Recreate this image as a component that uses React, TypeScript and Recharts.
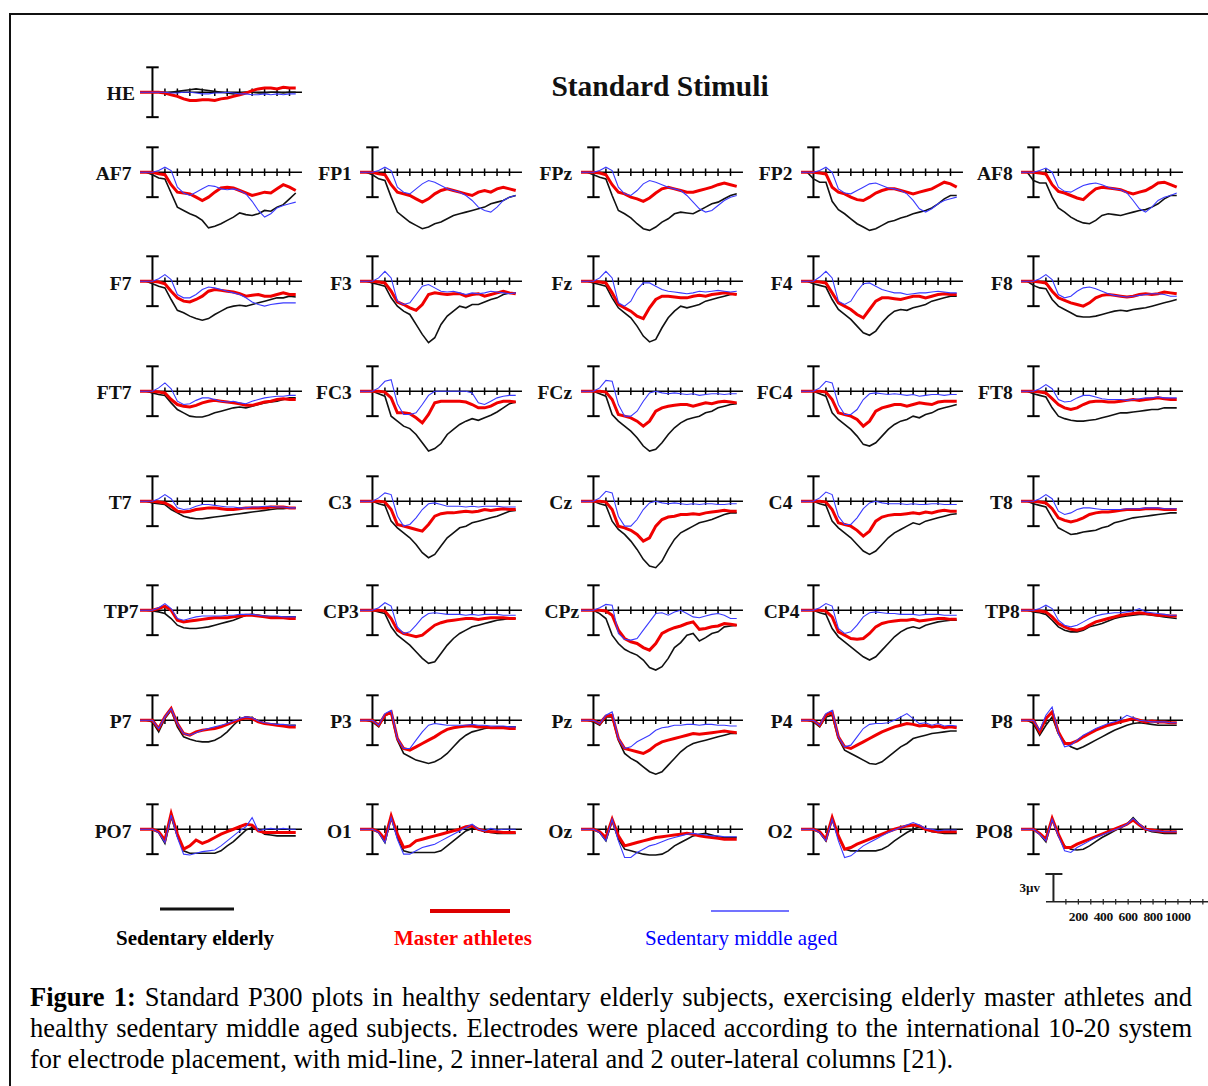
import React from "react";
import { LineChart, Line, XAxis, YAxis, ReferenceLine } from "recharts";

// time points in ms
const TIMES = [-100, -50, 0, 50, 100, 150, 200, 250, 300, 350, 400, 450, 500, 550, 600, 650, 700, 750, 800, 850, 900, 950, 1000, 1050, 1100, 1150];
const AXIS_TICKS = [100, 200, 300, 400, 500, 600, 700, 800, 900, 1000, 1100];
const SCALE_TICKS = [100, 200, 300, 400, 500, 600, 700, 800, 900, 1000, 1100, 1200, 1300];
const SCALE_LABELS = [200, 400, 600, 800, 1000];

const GRID = [
  ["AF7", "FP1", "FPz", "FP2", "AF8"],
  ["F7", "F3", "Fz", "F4", "F8"],
  ["FT7", "FC3", "FCz", "FC4", "FT8"],
  ["T7", "C3", "Cz", "C4", "T8"],
  ["TP7", "CP3", "CPz", "CP4", "TP8"],
  ["P7", "P3", "Pz", "P4", "P8"],
  ["PO7", "O1", "Oz", "O2", "PO8"],
];

const CAPTION_LINES = [
  "Standard P300 plots in healthy sedentary elderly subjects, exercising elderly master athletes and",
  "healthy sedentary middle aged subjects. Electrodes were placed according to the international 10-20 system",
  "for electrode placement, with mid-line, 2 inner-lateral and 2 outer-lateral columns [21).",
];

// k = sedentary elderly, r = master athletes, b = sedentary middle aged (µV, down = negative)
const HE = {
  k: [0,0,0,0,-0.1,0,0.1,0.2,0.3,0.4,0.3,0.2,0.1,0,-0.1,-0.2,-0.1,0,0,-0.1,-0.1,0,0,-0.1,0,0],
  r: [0,0,0,0,-0.1,-0.3,-0.5,-0.8,-1.0,-1.0,-0.9,-0.9,-1.0,-0.8,-0.7,-0.5,-0.3,-0.1,0.2,0.4,0.5,0.5,0.4,0.6,0.5,0.5],
  b: [0,0,0,0,0,-0.1,-0.1,0,0,-0.1,-0.2,-0.2,-0.1,-0.1,0,-0.1,-0.2,-0.2,-0.3,-0.3,-0.2,-0.3,-0.2,-0.3,-0.2,-0.2],
};
const AF7 = {
  k: [0,0,-0.3,-0.7,-0.8,-2.5,-4.2,-4.6,-5.0,-5.3,-5.8,-6.7,-6.5,-6.2,-5.8,-5.4,-4.9,-5.1,-5.2,-5.0,-4.6,-4.7,-4.2,-3.9,-3.2,-2.5],
  r: [0,0,0,-0.2,-0.3,-1.5,-2.4,-2.5,-2.6,-3.0,-3.4,-3.0,-2.4,-1.9,-1.8,-1.9,-2.2,-2.5,-2.8,-2.6,-2.4,-2.5,-2.0,-1.5,-1.8,-2.2],
  b: [0,0,0,0.2,0.6,0.2,-1.8,-2.5,-2.8,-2.4,-2.0,-1.6,-1.7,-2.0,-2.1,-2.0,-2.2,-2.6,-3.5,-4.6,-5.4,-5.0,-4.3,-4.0,-3.8,-3.6],
};
const FP1 = {
  k: [0,0,-0.3,-0.8,-1.0,-3.0,-4.8,-5.4,-6.0,-6.4,-6.8,-6.6,-6.2,-6.0,-5.6,-5.2,-5.0,-4.8,-4.6,-4.4,-4.2,-3.8,-3.6,-3.4,-3.0,-2.8],
  r: [0,0,0,-0.2,-0.3,-1.5,-2.4,-2.6,-2.8,-3.2,-3.6,-3.2,-2.6,-2.2,-2.0,-2.2,-2.4,-2.6,-2.8,-2.4,-2.2,-2.4,-2.0,-1.8,-2.0,-2.2],
  b: [0,0,0,0.2,0.6,0.2,-1.8,-2.4,-2.6,-2.0,-1.4,-1.0,-1.2,-1.6,-2.0,-2.2,-2.4,-2.8,-3.4,-4.2,-4.6,-4.8,-4.2,-3.4,-3.0,-2.8],
};
const FPz = {
  k: [0,0,-0.3,-0.6,-0.8,-2.8,-4.6,-5.0,-5.5,-6.2,-6.8,-7.0,-6.6,-6.0,-5.6,-5.0,-4.8,-4.9,-5.0,-4.6,-4.2,-3.8,-3.6,-3.2,-2.8,-2.6],
  r: [0,0,0,-0.1,-0.3,-1.5,-2.4,-2.6,-3.0,-3.2,-3.5,-3.1,-2.5,-2.0,-1.8,-2.0,-2.2,-2.4,-2.4,-2.2,-2.0,-1.8,-1.5,-1.3,-1.5,-1.7],
  b: [0,0,0,0.2,0.6,0.2,-1.8,-2.6,-2.8,-2.2,-1.4,-1.0,-1.2,-1.5,-1.8,-2.0,-2.2,-2.8,-3.6,-4.4,-4.8,-4.6,-4.0,-3.4,-3.0,-2.8],
};
const FP2 = {
  k: [0,0,-0.8,-1.2,-1.2,-3.5,-4.5,-5.0,-5.6,-6.2,-6.6,-7.0,-6.8,-6.4,-6.0,-5.8,-5.5,-5.3,-5.0,-4.8,-4.6,-4.3,-3.8,-3.2,-2.8,-2.8],
  r: [0,0,0,-0.1,-0.2,-1.8,-2.4,-2.6,-3.0,-3.3,-3.4,-3.0,-2.5,-2.2,-2.0,-2.0,-2.2,-2.4,-2.6,-2.4,-2.2,-2.0,-1.6,-1.2,-1.4,-1.8],
  b: [0,0,0,0.2,0.6,0,-2.0,-2.5,-2.6,-2.2,-1.8,-1.4,-1.3,-1.6,-1.9,-2.0,-2.2,-2.6,-3.4,-4.4,-4.8,-4.4,-3.8,-3.4,-3.2,-3.0],
};
const AF8 = {
  k: [0,0,-1.0,-1.3,-1.3,-3.0,-4.3,-4.8,-5.4,-5.8,-6.1,-6.2,-5.8,-5.2,-5.0,-5.1,-5.2,-5.0,-4.8,-4.6,-4.5,-4.2,-3.8,-3.2,-2.8,-2.8],
  r: [0,0,0,-0.1,-0.2,-1.5,-2.3,-2.5,-2.8,-3.1,-3.3,-2.6,-2.0,-1.8,-1.9,-2.0,-2.1,-2.4,-2.6,-2.4,-2.2,-1.8,-1.3,-1.2,-1.5,-1.8],
  b: [0,0,0,0.2,0.5,0,-1.8,-2.3,-2.4,-2.0,-1.6,-1.4,-1.3,-1.5,-1.8,-2.0,-2.1,-2.5,-3.4,-4.4,-4.8,-4.2,-3.4,-3.0,-2.8,-2.5],
};
const F7 = {
  k: [0,0,-0.3,-0.6,-0.8,-2.2,-3.5,-3.8,-4.2,-4.5,-4.7,-4.5,-4.0,-3.6,-3.2,-3.0,-2.9,-3.0,-2.8,-2.6,-2.4,-2.2,-2.0,-2.0,-1.8,-1.9],
  r: [0,0,0,-0.1,-0.3,-1.2,-2.0,-2.4,-2.5,-2.2,-1.8,-1.2,-1.0,-1.1,-1.2,-1.3,-1.5,-1.8,-1.7,-1.6,-1.8,-1.8,-1.6,-1.4,-1.6,-1.6],
  b: [0,0,0,0.3,0.8,0.2,-1.6,-2.0,-2.0,-1.6,-1.0,-0.7,-0.8,-1.0,-1.2,-1.4,-1.6,-2.0,-2.5,-2.8,-3.0,-2.8,-2.7,-2.6,-2.6,-2.6],
};
const F3 = {
  k: [0,0,-0.2,-0.4,-0.6,-2.0,-3.0,-3.6,-4.0,-5.2,-6.4,-7.4,-6.8,-5.2,-4.2,-3.6,-3.0,-3.2,-2.8,-2.8,-2.5,-2.2,-2.0,-1.6,-1.4,-1.4],
  r: [0,0,0,-0.1,-0.2,-1.2,-2.5,-2.8,-3.2,-3.5,-2.8,-1.6,-1.4,-1.5,-1.6,-1.5,-1.5,-1.8,-1.6,-1.5,-1.8,-1.6,-1.4,-1.2,-1.4,-1.5],
  b: [0,0,0,0.4,1.2,0.4,-2.4,-2.8,-2.6,-1.6,-0.6,-0.4,-0.8,-1.2,-1.3,-1.2,-1.4,-1.6,-1.4,-1.5,-1.4,-1.2,-1.3,-1.4,-1.5,-1.4],
};
const Fz = {
  k: [0,0,-0.2,-0.4,-0.6,-2.0,-3.2,-3.8,-4.4,-5.4,-6.6,-7.3,-7.0,-5.6,-4.4,-3.6,-3.0,-3.2,-3.0,-2.8,-2.4,-2.2,-2.0,-1.8,-1.6,-1.5],
  r: [0,0,0,-0.1,-0.2,-1.4,-2.8,-3.2,-3.6,-4.2,-4.5,-3.2,-2.2,-1.8,-1.8,-1.9,-2.0,-2.0,-1.8,-1.7,-1.8,-1.6,-1.5,-1.4,-1.5,-1.6],
  b: [0,0,0,0.4,1.2,0.4,-2.6,-3.0,-2.4,-1.0,-0.2,-0.2,-0.6,-1.0,-1.2,-1.3,-1.4,-1.5,-1.4,-1.2,-1.3,-1.2,-1.1,-1.2,-1.3,-1.2],
};
const F4 = {
  k: [0,0,-0.3,-0.5,-0.7,-2.2,-3.4,-4.0,-4.6,-5.4,-6.2,-6.5,-6.0,-5.0,-4.2,-3.6,-3.4,-3.5,-3.2,-3.0,-2.8,-2.4,-2.2,-2.0,-1.8,-1.8],
  r: [0,0,0,-0.1,-0.2,-1.4,-2.6,-3.0,-3.4,-4.0,-4.4,-3.4,-2.4,-2.0,-2.0,-2.1,-2.2,-2.0,-1.8,-1.8,-2.0,-1.8,-1.6,-1.5,-1.6,-1.6],
  b: [0,0,0,0.5,1.2,0.4,-2.4,-2.8,-2.4,-1.2,-0.3,-0.2,-0.6,-1.0,-1.2,-1.4,-1.4,-1.6,-1.5,-1.4,-1.4,-1.3,-1.2,-1.3,-1.4,-1.4],
};
const F8 = {
  k: [0,0,-0.5,-0.8,-0.9,-2.2,-3.0,-3.4,-3.8,-4.2,-4.3,-4.3,-4.2,-4.0,-3.8,-3.6,-3.5,-3.6,-3.4,-3.3,-3.2,-3.0,-2.8,-2.6,-2.4,-2.2],
  r: [0,0,0,-0.1,-0.2,-1.2,-2.0,-2.3,-2.6,-2.8,-3.0,-2.6,-2.0,-1.7,-1.6,-1.7,-1.8,-1.9,-1.8,-1.6,-1.5,-1.6,-1.5,-1.3,-1.4,-1.5],
  b: [0,0,0,0.3,0.8,0.2,-1.6,-2.0,-1.8,-1.2,-0.8,-0.7,-0.9,-1.2,-1.5,-1.7,-1.8,-1.9,-1.8,-1.7,-1.6,-1.5,-1.5,-1.6,-1.8,-1.8],
};
const FT7 = {
  k: [0,0,-0.2,-0.4,-0.5,-1.4,-2.2,-2.6,-3.0,-3.1,-3.1,-2.9,-2.6,-2.4,-2.2,-2.0,-1.9,-2.0,-1.8,-1.6,-1.4,-1.3,-1.2,-1.0,-0.8,-0.8],
  r: [0,0,0,-0.1,-0.2,-1.0,-1.6,-1.8,-1.9,-1.7,-1.4,-1.2,-1.1,-1.2,-1.3,-1.4,-1.5,-1.7,-1.7,-1.5,-1.3,-1.2,-1.0,-0.9,-1.0,-1.0],
  b: [0,0,0,0.4,1.0,0.3,-1.2,-1.6,-1.5,-1.1,-0.8,-0.8,-1.0,-1.2,-1.3,-1.2,-1.4,-1.5,-1.2,-1.0,-0.8,-0.7,-0.6,-0.6,-0.5,-0.5],
};
const FC3 = {
  k: [0,0,0,-0.3,-0.6,-3.0,-3.6,-4.2,-4.5,-5.2,-6.2,-7.2,-6.9,-6.3,-5.2,-4.6,-4.0,-3.6,-3.3,-3.5,-3.2,-2.9,-2.5,-2.0,-1.5,-1.3],
  r: [0,0,0,0,-0.1,-0.8,-2.6,-2.6,-2.7,-3.2,-3.8,-2.8,-1.4,-1.2,-1.2,-1.2,-1.2,-1.3,-1.6,-2.0,-2.0,-1.8,-1.4,-1.2,-1.2,-1.3],
  b: [0,0,0,0.4,1.2,1.4,-1.5,-2.8,-2.8,-2.6,-1.6,-0.5,0,0,0,0,0,0,-0.2,-1.4,-1.6,-1.2,-0.8,-0.6,-0.5,-0.5],
};
const FCz = {
  k: [0,0,0,-0.3,-0.6,-2.8,-3.6,-4.2,-4.8,-5.6,-6.6,-7.2,-7.0,-6.2,-5.2,-4.4,-3.8,-3.4,-3.2,-3.0,-2.6,-2.4,-2.0,-1.8,-1.6,-1.5],
  r: [0,0,0,0,-0.1,-1.0,-2.8,-3.0,-3.2,-3.6,-4.2,-3.6,-2.4,-2.0,-1.8,-1.7,-1.6,-1.6,-1.8,-1.6,-1.4,-1.5,-1.3,-1.2,-1.3,-1.4],
  b: [0,0,0,0.4,1.3,1.2,-1.6,-3.0,-3.0,-2.4,-1.2,-0.2,0,-0.2,-0.3,-0.2,-0.3,-0.4,-0.3,-0.5,-0.4,-0.3,-0.3,-0.4,-0.3,-0.3],
};
const FC4 = {
  k: [0,0,0,-0.3,-0.6,-2.6,-3.4,-4.0,-4.6,-5.4,-6.4,-6.6,-6.2,-5.4,-4.6,-4.0,-3.6,-3.4,-3.0,-3.2,-2.8,-2.6,-2.2,-2.0,-1.8,-1.6],
  r: [0,0,0,0,-0.1,-1.0,-2.6,-2.8,-3.0,-3.4,-4.2,-3.6,-2.4,-2.0,-1.8,-1.6,-1.6,-1.8,-1.6,-1.4,-1.5,-1.6,-1.3,-1.2,-1.2,-1.2],
  b: [0,0,0,0.4,1.2,1.0,-1.6,-2.8,-2.8,-2.2,-1.0,-0.3,-0.2,-0.3,-0.4,-0.3,-0.4,-0.5,-0.4,-0.6,-0.5,-0.4,-0.4,-0.5,-0.4,-0.4],
};
const FT8 = {
  k: [0,0,-0.3,-0.5,-0.7,-2.0,-3.0,-3.3,-3.5,-3.6,-3.6,-3.5,-3.4,-3.2,-3.0,-2.8,-2.6,-2.6,-2.5,-2.4,-2.3,-2.2,-2.2,-2.0,-2.0,-2.0],
  r: [0,0,0,-0.1,-0.2,-0.9,-1.6,-2.0,-2.2,-2.0,-1.6,-1.3,-1.2,-1.2,-1.3,-1.3,-1.2,-1.1,-1.0,-1.1,-1.0,-0.9,-0.8,-0.9,-1.0,-1.0],
  b: [0,0,0,0.3,0.8,0.3,-1.0,-1.3,-1.2,-0.8,-0.5,-0.5,-0.7,-0.9,-1.0,-1.0,-1.0,-1.1,-1.0,-0.9,-0.8,-0.8,-0.7,-0.8,-0.8,-0.8],
};
const T7 = {
  k: [0,0,-0.2,-0.3,-0.4,-1.0,-1.4,-1.8,-2.0,-2.1,-2.1,-2.0,-1.9,-1.8,-1.7,-1.6,-1.5,-1.4,-1.3,-1.2,-1.1,-1.0,-0.9,-0.9,-0.8,-0.8],
  r: [0,0,0,-0.1,-0.2,-0.6,-1.2,-1.3,-1.2,-1.0,-0.9,-0.8,-0.8,-0.9,-1.0,-1.0,-0.9,-0.8,-0.8,-0.8,-0.8,-0.7,-0.7,-0.7,-0.8,-0.8],
  b: [0,0,0,0.3,0.8,0.3,-0.8,-1.0,-0.9,-0.6,-0.4,-0.4,-0.5,-0.6,-0.7,-0.7,-0.8,-0.8,-0.7,-0.7,-0.6,-0.6,-0.7,-0.7,-0.8,-0.8],
};
const C3 = {
  k: [0,0,0,-0.3,-0.5,-2.4,-3.2,-3.8,-4.4,-5.2,-6.2,-6.8,-6.4,-5.4,-4.4,-3.8,-3.2,-3.0,-2.6,-2.4,-2.2,-2.0,-1.8,-1.5,-1.2,-1.1],
  r: [0,0,0,0,-0.1,-1.0,-2.8,-3.0,-3.2,-3.4,-3.6,-2.8,-1.8,-1.5,-1.4,-1.4,-1.3,-1.2,-1.3,-1.2,-1.0,-1.1,-1.0,-0.9,-1.0,-1.0],
  b: [0,0,0,0.4,1.0,0.8,-1.8,-3.0,-2.8,-2.0,-1.0,-0.3,-0.2,-0.4,-0.6,-0.6,-0.6,-0.7,-0.6,-0.7,-0.6,-0.6,-0.6,-0.7,-0.7,-0.7],
};
const Cz = {
  k: [0,0,0,-0.3,-0.5,-2.4,-3.4,-4.0,-4.8,-5.8,-7.0,-7.8,-8.0,-7.2,-5.8,-4.6,-3.8,-3.4,-3.0,-2.6,-2.4,-2.2,-1.9,-1.6,-1.4,-1.4],
  r: [0,0,0,0,-0.1,-1.0,-3.0,-3.2,-3.5,-4.0,-4.8,-4.4,-3.0,-2.2,-1.9,-1.8,-1.6,-1.6,-1.5,-1.6,-1.4,-1.3,-1.2,-1.1,-1.2,-1.2],
  b: [0,0,0,0.4,1.2,1.0,-1.8,-3.0,-3.0,-2.2,-1.0,-0.2,0,-0.2,-0.3,-0.2,-0.3,-0.4,-0.3,-0.4,-0.3,-0.3,-0.4,-0.4,-0.3,-0.3],
};
const C4 = {
  k: [0,0,0,-0.3,-0.5,-2.4,-3.2,-3.8,-4.4,-5.2,-6.0,-6.4,-6.0,-5.2,-4.4,-3.8,-3.4,-3.0,-2.6,-2.8,-2.4,-2.2,-2.0,-1.8,-1.6,-1.5],
  r: [0,0,0,0,-0.1,-1.0,-2.6,-2.8,-3.0,-3.5,-4.2,-3.6,-2.4,-1.9,-1.7,-1.6,-1.6,-1.5,-1.4,-1.5,-1.3,-1.4,-1.2,-1.1,-1.2,-1.2],
  b: [0,0,0,0.4,1.1,0.8,-1.8,-2.8,-2.8,-2.0,-0.9,-0.2,0,-0.2,-0.3,-0.3,-0.3,-0.4,-0.3,-0.4,-0.4,-0.3,-0.3,-0.4,-0.4,-0.4],
};
const T8 = {
  k: [0,0,-0.3,-0.5,-0.7,-2.0,-3.2,-3.6,-4.0,-3.9,-3.7,-3.6,-3.5,-3.2,-3.0,-2.6,-2.4,-2.2,-2.0,-1.9,-1.8,-1.7,-1.6,-1.5,-1.4,-1.4],
  r: [0,0,0,-0.1,-0.2,-0.9,-2.0,-2.3,-2.5,-2.3,-2.0,-1.6,-1.4,-1.3,-1.3,-1.2,-1.1,-1.0,-1.0,-1.0,-0.9,-0.9,-0.9,-1.0,-1.0,-1.0],
  b: [0,0,0,0.3,0.8,0.3,-1.2,-1.6,-1.4,-1.0,-0.8,-0.8,-0.9,-1.0,-1.0,-1.0,-1.0,-0.9,-0.9,-0.9,-0.8,-0.8,-0.8,-0.9,-0.9,-0.9],
};
const TP7 = {
  k: [0,0,-0.1,-0.2,-0.4,-1.0,-1.8,-2.1,-2.2,-2.2,-2.1,-2.0,-1.8,-1.6,-1.4,-1.2,-0.9,-0.6,-0.5,-0.6,-0.7,-0.8,-0.8,-0.8,-0.8,-0.8],
  r: [0,0,0,0.2,0.5,0,-1.2,-1.4,-1.3,-1.2,-1.1,-1.0,-0.9,-0.9,-0.9,-0.8,-0.7,-0.6,-0.6,-0.7,-0.8,-0.9,-0.9,-0.9,-1.0,-1.0],
  b: [0,0,0,0.3,0.8,0.2,-1.0,-1.2,-1.0,-0.8,-0.7,-0.7,-0.7,-0.7,-0.6,-0.6,-0.5,-0.5,-0.5,-0.6,-0.7,-0.7,-0.7,-0.8,-0.8,-0.8],
};
const CP3 = {
  k: [0,0,0,-0.2,-0.4,-2.0,-3.0,-3.6,-4.2,-5.0,-5.8,-6.4,-6.2,-5.2,-4.2,-3.4,-2.8,-2.4,-2.0,-1.8,-1.6,-1.4,-1.2,-1.1,-1.0,-1.0],
  r: [0,0,0,0,-0.1,-1.0,-2.4,-2.8,-3.0,-3.2,-3.0,-2.4,-1.8,-1.5,-1.3,-1.2,-1.1,-1.0,-1.0,-1.1,-1.0,-0.9,-0.9,-0.9,-1.0,-1.0],
  b: [0,0,0,0.3,0.9,0.5,-2.0,-2.8,-2.6,-1.8,-0.9,-0.4,-0.3,-0.4,-0.5,-0.5,-0.5,-0.6,-0.5,-0.6,-0.5,-0.5,-0.5,-0.6,-0.6,-0.6],
};
const CPz = {
  k: [0,0,0,-0.4,-1.0,-3.0,-4.0,-4.7,-5.1,-5.4,-6.0,-6.9,-7.2,-6.8,-5.8,-4.5,-3.9,-3.0,-2.8,-3.7,-3.3,-2.8,-2.6,-2.0,-1.9,-1.8],
  r: [0,0,0,0,-0.1,-0.6,-2.4,-3.4,-3.8,-4.0,-4.5,-4.8,-4.0,-2.8,-2.4,-2.1,-1.9,-1.6,-1.4,-2.3,-2.2,-2.0,-1.9,-1.6,-1.7,-1.8],
  b: [0,0,0,0.3,0.7,0.6,-2.8,-3.5,-3.6,-3.4,-2.4,-1.4,-0.4,-0.3,-0.6,-0.2,0,-0.4,-0.8,-0.9,-0.7,-0.5,-0.4,-0.6,-1.0,-1.0],
};
const CP4 = {
  k: [0,0,0,-0.3,-0.5,-2.2,-3.2,-3.8,-4.4,-5.0,-5.6,-6.0,-5.6,-4.8,-4.0,-3.2,-2.6,-2.2,-2.0,-2.2,-1.8,-1.6,-1.4,-1.3,-1.2,-1.2],
  r: [0,0,0,0,-0.1,-0.8,-2.6,-3.0,-3.4,-3.5,-3.4,-2.8,-2.0,-1.6,-1.4,-1.3,-1.2,-1.2,-1.1,-1.3,-1.2,-1.1,-1.0,-1.0,-1.1,-1.1],
  b: [0,0,0,0.3,0.8,0.5,-2.2,-2.8,-2.6,-1.8,-0.8,-0.3,-0.2,-0.3,-0.4,-0.4,-0.5,-0.5,-0.5,-0.6,-0.5,-0.5,-0.5,-0.6,-0.6,-0.6],
};
const TP8 = {
  k: [0,0,-0.2,-0.3,-0.5,-1.2,-2.0,-2.4,-2.6,-2.6,-2.4,-2.0,-1.8,-1.6,-1.3,-1.0,-0.8,-0.7,-0.6,-0.5,-0.5,-0.6,-0.7,-0.8,-0.9,-1.0],
  r: [0,0,0,-0.1,-0.2,-0.8,-1.6,-2.0,-2.3,-2.4,-2.2,-1.8,-1.4,-1.2,-1.0,-0.8,-0.6,-0.5,-0.4,-0.3,-0.4,-0.5,-0.6,-0.6,-0.7,-0.7],
  b: [0,0,0,0.2,0.6,0.2,-1.2,-1.8,-2.0,-1.8,-1.4,-1.0,-0.7,-0.5,-0.4,-0.3,-0.3,-0.2,-0.1,0.2,-0.2,-0.3,-0.4,-0.5,-0.6,-0.6],
};
const P7 = {
  k: [0,0,-0.2,-1.4,0.2,1.2,-0.8,-2.0,-2.3,-2.5,-2.6,-2.6,-2.4,-2.0,-1.4,-0.6,0.1,0.4,0.3,-0.1,-0.4,-0.5,-0.5,-0.6,-0.6,-0.6],
  r: [0,0,0,-1.0,0.4,1.4,-0.4,-1.6,-1.8,-1.4,-1.2,-1.1,-1.0,-0.8,-0.5,-0.2,0.1,0.3,0.2,-0.2,-0.4,-0.5,-0.6,-0.7,-0.8,-0.8],
  b: [0,0,0,-1.0,0.4,1.4,-0.4,-1.6,-1.8,-1.5,-1.2,-1.0,-0.8,-0.6,-0.4,-0.1,0.2,0.4,0.3,-0.1,-0.3,-0.4,-0.5,-0.5,-0.6,-0.6],
};
const P3 = {
  k: [0,0,-0.2,-0.8,0.6,0.8,-2.4,-4.0,-4.4,-4.8,-5.0,-5.2,-5.0,-4.6,-4.0,-3.2,-2.4,-1.8,-1.4,-1.2,-1.0,-0.9,-0.8,-0.8,-0.8,-0.8],
  r: [0,0,0,-0.6,0.6,1.0,-2.2,-3.4,-3.6,-3.2,-2.8,-2.4,-2.0,-1.5,-1.1,-0.9,-0.8,-0.7,-0.7,-0.8,-0.8,-0.9,-0.9,-0.9,-1.0,-1.0],
  b: [0,0,0,-0.6,0.8,1.2,-2.2,-3.4,-3.4,-2.4,-1.4,-0.6,-0.4,-0.5,-0.6,-0.6,-0.6,-0.6,-0.5,-0.6,-0.6,-0.7,-0.7,-0.7,-0.8,-0.8],
};
const Pz = {
  k: [0,0,-0.2,-0.6,0.4,0.4,-2.4,-4.0,-4.6,-5.0,-5.6,-6.2,-6.5,-6.2,-5.4,-4.6,-3.8,-3.2,-2.8,-2.6,-2.4,-2.2,-2.0,-1.8,-1.6,-1.6],
  r: [0,0,0,-0.4,0.5,0.6,-2.2,-3.4,-3.6,-3.8,-4.0,-3.6,-3.0,-2.6,-2.4,-2.2,-2.0,-1.8,-1.6,-1.7,-1.6,-1.5,-1.4,-1.3,-1.4,-1.5],
  b: [0,0,0,-0.4,0.6,1.0,-2.2,-3.4,-3.2,-2.6,-2.2,-1.8,-1.2,-0.9,-0.8,-0.6,-0.6,-0.5,-0.5,-0.6,-0.5,-0.5,-0.6,-0.6,-0.7,-0.7],
};
const P4 = {
  k: [0,0,-0.2,-0.8,0.4,0.6,-2.2,-3.6,-4.0,-4.4,-4.8,-5.2,-5.3,-5.0,-4.4,-3.8,-3.2,-2.8,-2.2,-2.0,-1.8,-1.6,-1.5,-1.4,-1.3,-1.3],
  r: [0,0,0,-0.6,0.6,1.0,-2.0,-3.2,-3.4,-3.0,-2.6,-2.2,-1.8,-1.4,-1.1,-0.8,-0.6,-0.4,-0.5,-0.7,-0.6,-0.8,-0.7,-0.9,-0.8,-0.9],
  b: [0,0,0,-0.6,0.8,1.2,-2.0,-3.2,-3.0,-2.0,-1.0,-0.5,-0.4,-0.4,-0.3,0,0.4,0.8,0.2,-0.4,-0.3,-0.6,-0.4,-0.7,-0.6,-0.7],
};
const P8 = {
  k: [0,0,-0.4,-1.8,-0.6,0.4,-1.6,-2.6,-3.2,-3.5,-3.2,-2.8,-2.4,-2.0,-1.6,-1.2,-0.9,-0.6,-0.4,-0.3,-0.4,-0.5,-0.6,-0.6,-0.6,-0.6],
  r: [0,0,0,-1.4,0.2,1.0,-1.4,-2.8,-2.8,-2.5,-2.0,-1.6,-1.2,-0.9,-0.6,-0.4,-0.2,0,0.2,0,-0.2,-0.1,-0.2,-0.2,-0.3,-0.3],
  b: [0,0,0,-1.2,0.6,1.6,-1.6,-3.2,-3.0,-2.4,-1.8,-1.4,-1.0,-0.7,-0.4,-0.2,0.1,0.6,0.3,0,-0.1,-0.2,-0.2,-0.2,-0.3,-0.3],
};
const PO7 = {
  k: [0,0,0,-0.4,-1.7,1.5,-0.8,-2.6,-2.9,-2.9,-2.9,-2.9,-2.9,-2.6,-2.0,-1.5,-0.8,-0.1,0.2,0,-0.6,-0.7,-0.8,-0.8,-0.8,-0.8],
  r: [0,0,0,-0.3,-1.3,1.9,-0.6,-2.4,-2.0,-1.3,-1.7,-1.4,-1.0,-0.6,-0.3,0,0.3,0.6,0.5,-0.2,-0.4,-0.4,-0.4,-0.4,-0.4,-0.4],
  b: [0,0,0,-0.4,-1.6,1.7,-1.0,-3.0,-3.1,-2.9,-2.7,-2.6,-2.5,-2.0,-1.4,-0.8,-0.2,0.3,1.4,-0.2,0,0.1,0,0.1,0,0],
};
const O1 = {
  k: [0,0,0,-0.4,-1.6,1.4,-1.0,-2.6,-2.8,-2.8,-2.8,-2.8,-2.8,-2.6,-2.0,-1.4,-0.8,-0.2,0.1,0,-0.3,-0.4,-0.5,-0.5,-0.5,-0.5],
  r: [0,0,0,-0.3,-1.2,1.6,-0.6,-2.2,-2.0,-1.4,-1.2,-1.0,-0.8,-0.6,-0.4,-0.2,0,0.3,0.4,0,-0.2,-0.3,-0.3,-0.4,-0.4,-0.4],
  b: [0,0,0,-0.4,-1.6,1.4,-1.2,-3.0,-3.0,-2.6,-2.2,-2.0,-1.8,-1.4,-1.0,-0.6,-0.2,0.2,0.6,0,-0.2,0.1,-0.1,0,0,0],
};
const Oz = {
  k: [0,0,0,-0.4,-1.4,1.0,-1.2,-2.4,-2.6,-2.8,-3.0,-3.1,-3.1,-3.0,-2.6,-2.0,-1.6,-1.2,-0.8,-0.6,-0.5,-0.7,-0.9,-1.0,-1.0,-1.0],
  r: [0,0,0,-0.3,-1.0,1.2,-0.8,-2.0,-1.8,-1.6,-1.4,-1.2,-1.0,-0.9,-0.8,-0.7,-0.6,-0.5,-0.6,-0.8,-0.9,-1.0,-1.1,-1.2,-1.2,-1.2],
  b: [0,0,0,-0.4,-1.4,1.2,-1.4,-3.4,-3.4,-2.8,-2.4,-2.0,-1.8,-1.5,-1.2,-1.0,-0.8,-0.6,-0.5,-0.6,-0.7,-0.8,-0.8,-0.9,-0.9,-0.9],
};
const O2 = {
  k: [0,0,0,-0.4,-1.4,1.2,-1.0,-2.4,-2.6,-2.6,-2.6,-2.6,-2.6,-2.4,-2.0,-1.4,-0.9,-0.4,0,0.3,0,-0.3,-0.4,-0.5,-0.5,-0.5],
  r: [0,0,0,-0.3,-1.2,1.4,-0.8,-2.4,-2.2,-1.8,-1.5,-1.2,-0.9,-0.6,-0.3,0,0.2,0.4,0.5,0.4,0,-0.2,-0.3,-0.3,-0.3,-0.3],
  b: [0,0,0,-0.4,-1.4,1.2,-1.4,-3.4,-3.2,-2.6,-2.0,-1.6,-1.2,-0.8,-0.4,-0.1,0.2,0.5,0.8,0.5,0.1,0,-0.2,-0.1,-0.1,-0.1],
};
const PO8 = {
  k: [0,0,0,-0.6,-1.5,1.2,-0.8,-2.0,-2.4,-2.5,-2.4,-2.0,-1.5,-1.0,-0.6,-0.2,0.2,0.6,1.4,0.6,0,-0.3,-0.4,-0.5,-0.5,-0.5],
  r: [0,0,0,-0.5,-1.2,1.3,-0.6,-2.2,-2.2,-1.8,-1.5,-1.2,-0.9,-0.6,-0.3,0,0.3,0.6,1.1,0.5,0,-0.1,-0.2,-0.3,-0.3,-0.3],
  b: [0,0,0,-0.6,-1.4,1.2,-0.8,-2.6,-2.8,-2.2,-1.8,-1.4,-1.0,-0.7,-0.4,-0.1,0.2,0.6,1.3,0.6,0,-0.2,-0.2,-0.3,-0.3,-0.3],
};

const ELECTRODES: Record<string, { k: number[]; r: number[]; b: number[] }> = {
  HE, AF7, FP1, FPz, FP2, AF8, F7, F3, Fz, F4, F8, FT7, FC3, FCz, FC4, FT8,
  T7, C3, Cz, C4, T8, TP7, CP3, CPz, CP4, TP8, P7, P3, Pz, P4, P8, PO7, O1, Oz, O2, PO8,
};

// layout
const COL_X0 = 152.5;
const COL_DX = 220.3;
const ROW_Y0 = 172;
const ROW_DY = 109.6;
const PX_PER_MS = 0.1246;
const Y_MIN = -9;
const Y_MAX = 4;
const PLOT_H = 108;
const PX_PER_UV = PLOT_H / (Y_MAX - Y_MIN);
const PLOT_W = 1300 * PX_PER_MS;

const SERIF = "'Liberation Serif', 'Times New Roman', serif";

function ErpPlot({ name, barX, baseY }: { name: string; barX: number; baseY: number }) {
  const e = ELECTRODES[name];
  const rows = TIMES.map((t, i) => ({ t, k: e.k[i], r: e.r[i], b: e.b[i] }));
  const left = barX - 100 * PX_PER_MS;
  const top = baseY - Y_MAX * PX_PER_UV;
  return (
    <div style={{ position: "absolute", left, top }}>
      <LineChart width={PLOT_W} height={PLOT_H} data={rows} margin={{ top: 0, right: 0, bottom: 0, left: 0 }}>
        <XAxis type="number" dataKey="t" domain={[-100, 1200]} hide />
        <YAxis type="number" domain={[Y_MIN, Y_MAX]} hide />
        <ReferenceLine segment={[{ x: 0, y: 0 }, { x: 1200, y: 0 }]} stroke="#000" strokeWidth={1.6} />
        {AXIS_TICKS.map((t) => (
          <ReferenceLine key={t} segment={[{ x: t, y: -0.45 }, { x: t, y: 0.45 }]} stroke="#000" strokeWidth={1.5} />
        ))}
        <ReferenceLine segment={[{ x: 0, y: -3 }, { x: 0, y: 3 }]} stroke="#000" strokeWidth={2} />
        <ReferenceLine segment={[{ x: -50, y: 3 }, { x: 50, y: 3 }]} stroke="#000" strokeWidth={2} />
        <ReferenceLine segment={[{ x: -50, y: -3 }, { x: 50, y: -3 }]} stroke="#000" strokeWidth={2} />
        <Line dataKey="k" stroke="#111" strokeWidth={1.6} dot={false} isAnimationActive={false} />
        <Line dataKey="r" stroke="#f00000" strokeWidth={3} dot={false} isAnimationActive={false} />
        <Line dataKey="b" stroke="#3a3aff" strokeWidth={1.1} dot={false} isAnimationActive={false} />
      </LineChart>
    </div>
  );
}

function ScaleTick(props: any) {
  const { x, y, payload } = props;
  return (
    <text x={x} y={y} dy={10} textAnchor="middle" fontFamily={SERIF} fontWeight="bold" fontSize={13.5} letterSpacing={-0.4} fill="#111">
      {payload.value}
    </text>
  );
}

function ScaleBar() {
  const pxPerMs = 0.1245;
  const left = 1053 - 100 * pxPerMs;
  const rows = TIMES.map((t) => ({ t, v: 0 }));
  return (
    <div style={{ position: "absolute", left, top: 872 }}>
      <LineChart width={1500 * pxPerMs} height={61} data={rows} margin={{ top: 2, right: 0, bottom: 0, left: 0 }}>
        <XAxis
          type="number"
          dataKey="t"
          domain={[-100, 1400]}
          ticks={SCALE_LABELS}
          interval={0}
          axisLine={false}
          tickLine={false}
          tickSize={0}
          tickMargin={0}
          height={22}
          tick={<ScaleTick />}
        />
        <YAxis type="number" domain={[-1, 3]} hide />
        <Line dataKey="v" stroke="none" dot={false} isAnimationActive={false} />
        <ReferenceLine segment={[{ x: -60, y: 0 }, { x: 1400, y: 0 }]} stroke="#222" strokeWidth={1.5} ifOverflow="visible" />
        {SCALE_TICKS.map((t) => (
          <ReferenceLine key={t} segment={[{ x: t, y: -0.3 }, { x: t, y: 0.3 }]} stroke="#222" strokeWidth={1.2} ifOverflow="visible" />
        ))}
        <ReferenceLine segment={[{ x: 0, y: 0 }, { x: 0, y: 3 }]} stroke="#222" strokeWidth={2} ifOverflow="visible" />
        <ReferenceLine segment={[{ x: -65, y: 3 }, { x: 72, y: 3 }]} stroke="#222" strokeWidth={2} ifOverflow="visible" />
      </LineChart>
    </div>
  );
}

export default function App() {
  const plots: { name: string; barX: number; baseY: number; row: number }[] = [];
  GRID.forEach((row, r) =>
    row.forEach((name, c) => plots.push({ name, barX: COL_X0 + COL_DX * c, baseY: ROW_Y0 + ROW_DY * r, row: r }))
  );
  const captionStyle: React.CSSProperties = {
    position: "absolute",
    left: 30,
    width: 1162,
    height: 31,
    fontFamily: SERIF,
    fontSize: 26.5,
    lineHeight: "31px",
    color: "#000",
  };
  return (
    <div style={{ position: "relative", width: 1208, height: 1086, overflow: "hidden", background: "#fff" }}>
      <style>{`body{margin:0;overflow:hidden;}`}</style>
      <div
        style={{
          position: "absolute",
          left: 9,
          top: 13,
          width: 1400,
          height: 1200,
          borderTop: "2.5px solid #111",
          borderLeft: "2.5px solid #111",
        }}
      />
      <ErpPlot name="HE" barX={152.5} baseY={92} />
      {plots.map((p) => (
        <ErpPlot key={p.name} name={p.name} barX={p.barX} baseY={p.baseY} />
      ))}
      <ScaleBar />
      <svg width={1208} height={1086} style={{ position: "absolute", left: 0, top: 0, pointerEvents: "none" }}>
        <text x={660} y={96} textAnchor="middle" fontFamily={SERIF} fontWeight="bold" fontSize={29.5} fill="#111">
          Standard Stimuli
        </text>
        <text x={135} y={100} textAnchor="end" fontFamily={SERIF} fontWeight="bold" fontSize={19.5} fill="#111">
          HE
        </text>
        {plots.map((p) => (
          <text
            key={p.name}
            x={p.barX - (p.row === 4 ? 14 : 21)}
            y={p.baseY + 8}
            textAnchor="end"
            fontFamily={SERIF}
            fontWeight="bold"
            fontSize={19.5}
            fill="#111"
          >
            {p.name}
          </text>
        ))}
        <line x1={160} y1={909} x2={234} y2={909} stroke="#111" strokeWidth={3} />
        <line x1={430} y1={911} x2={510} y2={911} stroke="#dd0000" strokeWidth={4} />
        <line x1={711} y1={911} x2={789} y2={911} stroke="#4444ff" strokeWidth={1.6} />
        <text x={116} y={945} fontFamily={SERIF} fontWeight="bold" fontSize={21} fill="#000">
          Sedentary elderly
        </text>
        <text x={394} y={945} fontFamily={SERIF} fontWeight="bold" fontSize={21} fill="#ff0000">
          Master athletes
        </text>
        <text x={645} y={945} fontFamily={SERIF} fontSize={21} fill="#0000ff">
          Sedentary middle aged
        </text>
        <text x={1040} y={892} textAnchor="end" fontFamily={SERIF} fontWeight="bold" fontSize={13} fill="#111">
          3µv
        </text>
      </svg>
      <div style={{ ...captionStyle, top: 982, textAlign: "justify", textAlignLast: "justify" }}>
        <b>Figure 1:</b> {CAPTION_LINES[0]}
      </div>
      <div style={{ ...captionStyle, top: 1013, textAlign: "justify", textAlignLast: "justify" }}>{CAPTION_LINES[1]}</div>
      <div style={{ ...captionStyle, top: 1044 }}>{CAPTION_LINES[2]}</div>
    </div>
  );
}
